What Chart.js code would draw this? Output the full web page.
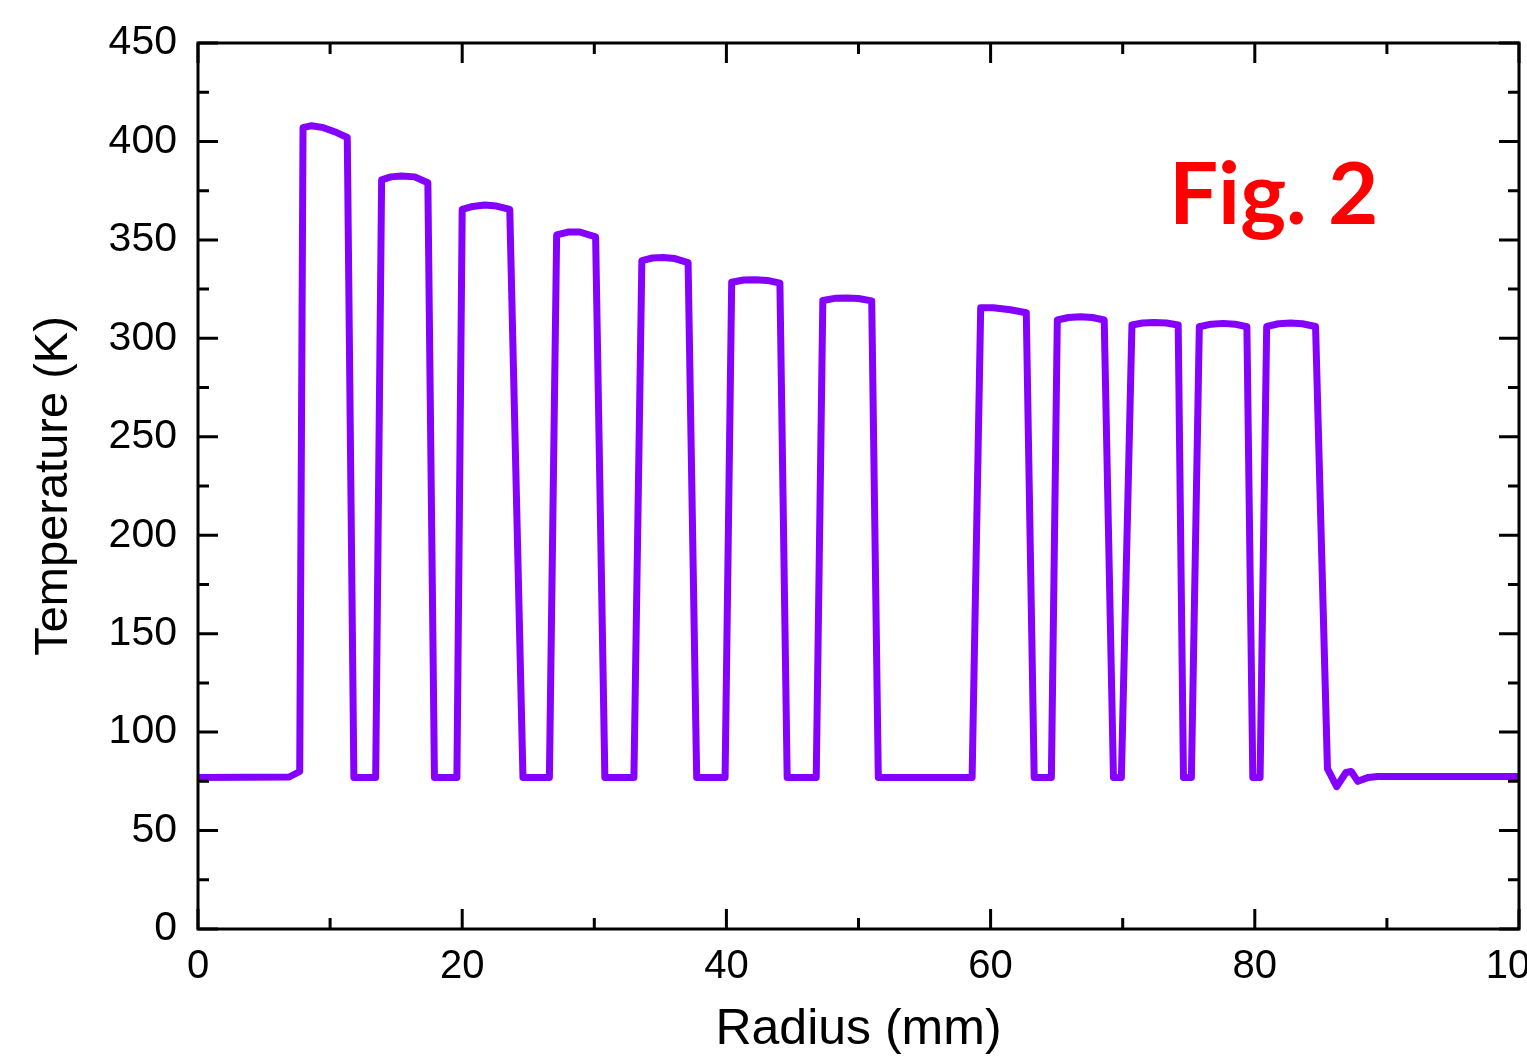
<!DOCTYPE html>
<html>
<head>
<meta charset="utf-8">
<script src="https://cdn.jsdelivr.net/npm/chart.js@4"></script>
<style>
  html, body { margin: 0; padding: 0; background: #fff; overflow: hidden; }
  #TempChart { display: block; }
</style>
</head>
<body>
<canvas id="TempChart" width="1527" height="1061"></canvas>
<script>
// radius (mm) and temperature (K)
const radius = [
  0, 6.9, 7.7, 7.95, 8.6, 9.5, 10.5, 11.3, 11.8, 13.45,
  13.9, 14.6, 15.4, 16.4, 17.4, 17.9, 19.6,
  20.0, 20.8, 21.7, 22.6, 23.6, 24.6, 26.6,
  27.15, 28.0, 28.9, 30.1, 30.8, 33.0,
  33.6, 34.4, 35.2, 36.1, 37.1, 37.75, 39.9,
  40.4, 41.3, 42.2, 43.1, 44.05, 44.6, 46.8,
  47.3, 48.2, 49.1, 50.0, 51.0, 51.5, 58.6,
  59.25, 60.2, 61.5, 62.7, 63.3, 64.6,
  65.05, 65.9, 66.8, 67.7, 68.6, 69.3, 69.9,
  70.7, 71.5, 72.4, 73.3, 74.2, 74.6, 75.2,
  75.8, 76.7, 77.6, 78.5, 79.4, 79.85, 80.4,
  80.9, 81.8, 82.7, 83.6, 84.6, 85.5, 86.2, 86.9, 87.3, 87.8, 88.6, 89.3, 100
];
const temperature = [
  77, 77.2, 80, 407, 408, 407, 404.5, 402, 77, 77,
  380.5, 382, 382.5, 382, 379, 77, 77,
  365.5, 367, 367.7, 367.2, 365.5, 77, 77,
  352.5, 354, 354, 351.5, 77, 77,
  339.5, 340.8, 341, 340.5, 338.5, 77, 77,
  328.5, 329.6, 329.8, 329.4, 328, 77, 77,
  319.2, 320.3, 320.5, 320.2, 319, 77, 77,
  315.5, 315.5, 314.5, 313, 77, 77,
  309.3, 310.6, 311, 310.6, 309.3, 77, 77,
  306.8, 307.8, 308, 307.8, 306.8, 77, 77,
  305.9, 307.2, 307.6, 307.2, 305.9, 77, 77,
  306, 307.4, 307.8, 307.4, 306, 81.5, 72.3, 79.5, 80, 75, 77, 77.5, 77.5
];

const xTicks = { min: 0, max: 100, major: 20, minor: 10 };
const yTicks = { min: 0, max: 450, major: 50, minor: 25 };

const figLabel = 'Fig. 2';
const figPos = { x: 73.5, y: 358 };

const fontFamily = "'Liberation Sans', Arial, sans-serif";

// frame box, inward ticks on all four sides, and the figure tag
const frameTicks = {
  id: 'frameTicks',
  afterDraw(chart) {
    const { ctx, chartArea: a, scales: { x, y } } = chart;
    ctx.save();
    ctx.strokeStyle = '#000';
    ctx.lineWidth = 3;
    ctx.strokeRect(a.left, a.top, a.right - a.left, a.bottom - a.top);
    ctx.beginPath();
    for (let v = xTicks.min; v <= xTicks.max; v += xTicks.minor) {
      const px = x.getPixelForValue(v);
      const len = v % xTicks.major === 0 ? 20 : 11;
      ctx.moveTo(px, a.bottom); ctx.lineTo(px, a.bottom - len);
      ctx.moveTo(px, a.top); ctx.lineTo(px, a.top + len);
    }
    for (let v = yTicks.min; v <= yTicks.max; v += yTicks.minor) {
      const py = y.getPixelForValue(v);
      const len = v % yTicks.major === 0 ? 20 : 11;
      ctx.moveTo(a.left, py); ctx.lineTo(a.left + len, py);
      ctx.moveTo(a.right, py); ctx.lineTo(a.right - len, py);
    }
    ctx.stroke();

    ctx.fillStyle = '#ff0000';
    ctx.font = "bold 87px Lato, 'Liberation Sans', sans-serif";
    ctx.textAlign = 'left';
    ctx.textBaseline = 'alphabetic';
    ctx.fillText(figLabel, x.getPixelForValue(figPos.x), y.getPixelForValue(figPos.y));
    ctx.restore();
  }
};

const ctx = document.getElementById('TempChart').getContext('2d');

new Chart(ctx, {
  type: 'scatter',
  data: {
    datasets: [{
      data: radius.map((r, i) => ({ x: r, y: temperature[i] })),
      showLine: true,
      borderColor: 'rgb(132, 0, 255)',
      backgroundColor: 'rgb(132, 0, 255)',
      borderWidth: 7,
      borderJoinStyle: 'round',
      pointRadius: 0,
      tension: 0
    }]
  },
  options: {
    responsive: false,
    animation: false,
    layout: { padding: { left: 0, top: 43, right: 8, bottom: 0 } },
    plugins: {
      legend: { display: false },
      tooltip: { enabled: false }
    },
    scales: {
      x: {
        type: 'linear',
        min: xTicks.min,
        max: xTicks.max,
        grid: { display: false, drawTicks: false },
        border: { display: false },
        ticks: {
          stepSize: xTicks.major,
          autoSkip: false,
          maxRotation: 0,
          padding: 14,
          color: '#000',
          font: { family: fontFamily, size: 40 }
        },
        title: {
          display: true,
          text: 'Radius (mm)',
          color: '#000',
          font: { family: fontFamily, size: 50 },
          padding: { top: 0, bottom: 1 }
        },
        afterFit(scale) {
          scale.height = 132;
          scale.paddingLeft = 0;
          scale.paddingRight = 0;
        }
      },
      y: {
        min: yTicks.min,
        max: yTicks.max,
        grid: { display: false, drawTicks: false },
        border: { display: false },
        ticks: {
          stepSize: yTicks.major,
          padding: 21,
          color: '#000',
          font: { family: fontFamily, size: 41 }
        },
        title: {
          display: true,
          text: 'Temperature (K)',
          color: '#000',
          font: { family: fontFamily, size: 47 },
          padding: { top: 26, bottom: 0 }
        },
        afterFit(scale) {
          scale.width = 198;
          scale.paddingTop = 0;
          scale.paddingBottom = 0;
        }
      }
    }
  },
  plugins: [frameTicks]
});
</script>
</body>
</html>
